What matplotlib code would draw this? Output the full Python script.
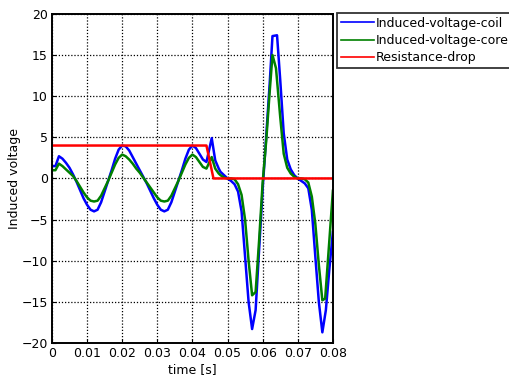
import matplotlib

matplotlib.use("Agg")
import matplotlib.pyplot as plt

# Induced voltage in the coil
t_coil = [0.000, 0.001, 0.002, 0.003, 0.004, 0.005, 0.006, 0.007, 0.008, 0.009,
          0.010, 0.011, 0.012, 0.013, 0.014, 0.015, 0.016, 0.017, 0.018, 0.019,
          0.020, 0.021, 0.022, 0.023, 0.024, 0.025, 0.026, 0.027, 0.028, 0.029,
          0.030, 0.031, 0.032, 0.033, 0.034, 0.035, 0.036, 0.037, 0.038, 0.039,
          0.040, 0.041, 0.042, 0.043, 0.044, 0.0455, 0.0465, 0.0475, 0.048, 0.049,
          0.050, 0.051, 0.052, 0.053, 0.054, 0.055, 0.056, 0.057, 0.058, 0.059,
          0.060, 0.061, 0.062, 0.0628, 0.0641, 0.065, 0.066, 0.067, 0.068, 0.069,
          0.070, 0.071, 0.072, 0.073, 0.074, 0.075, 0.076, 0.077, 0.078, 0.079,
          0.080]
v_coil = [1.5, 1.5, 2.7, 2.4, 1.9, 1.3, 0.5, -0.4, -1.4, -2.4,
          -3.2, -3.8, -4.0, -3.8, -2.9, -1.6, -0.3, 1.0, 2.4, 3.5,
          4.0, 3.9, 3.4, 2.6, 1.8, 1.0, 0.2, -0.6, -1.5, -2.4,
          -3.2, -3.8, -4.0, -3.8, -2.9, -1.6, -0.3, 1.0, 2.4, 3.5,
          4.0, 3.7, 3.0, 2.3, 2.0, 4.9, 2.2, 1.2, 0.8, 0.4,
          0.0, -0.3, -0.7, -1.6, -4.0, -9.5, -15.0, -18.3, -16.0, -8.6,
          -1.3, 5.0, 11.5, 17.3, 17.4, 12.0, 5.5, 2.3, 1.1, 0.4,
          0.0, -0.3, -0.6, -1.2, -3.8, -9.5, -15.0, -18.7, -16.0, -11.0,
          -6.5]

# Induced voltage in the core
t_core = [0.000, 0.001, 0.002, 0.003, 0.004, 0.005, 0.006, 0.007, 0.008, 0.009,
          0.010, 0.011, 0.012, 0.013, 0.014, 0.015, 0.016, 0.017, 0.018, 0.019,
          0.020, 0.021, 0.022, 0.023, 0.024, 0.025, 0.026, 0.027, 0.028, 0.029,
          0.030, 0.031, 0.032, 0.033, 0.034, 0.035, 0.036, 0.037, 0.038, 0.039,
          0.040, 0.041, 0.042, 0.043, 0.044, 0.0455, 0.0465, 0.0475, 0.048, 0.049,
          0.050, 0.051, 0.052, 0.053, 0.054, 0.055, 0.056, 0.057, 0.058, 0.059,
          0.060, 0.061, 0.062, 0.0628, 0.0638, 0.065, 0.066, 0.067, 0.068, 0.069,
          0.070, 0.071, 0.072, 0.073, 0.074, 0.075, 0.076, 0.077, 0.0778, 0.079,
          0.080]
v_core = [1.0, 1.0, 1.8, 1.5, 1.1, 0.7, 0.3, -0.3, -1.0, -1.7,
          -2.3, -2.7, -2.8, -2.7, -2.1, -1.2, -0.3, 0.7, 1.7, 2.5,
          2.9, 2.7, 2.3, 1.8, 1.2, 0.7, 0.1, -0.5, -1.1, -1.7,
          -2.3, -2.7, -2.8, -2.7, -2.1, -1.2, -0.3, 0.7, 1.7, 2.5,
          2.9, 2.6, 2.0, 1.4, 1.2, 2.6, 1.2, 0.6, 0.4, 0.1,
          0.0, 0.0, -0.1, -0.7, -2.0, -5.0, -10.0, -14.2, -13.8, -7.5,
          -0.5, 4.5, 10.5, 15.0, 13.4, 7.5, 3.0, 1.3, 0.6, 0.2,
          0.0, 0.0, -0.1, -0.5, -2.2, -5.5, -10.5, -14.8, -14.6, -7.5,
          -1.5]

# Resistance drop
t_res = [0.000, 0.044, 0.046, 0.080]
v_res = [4.0, 4.0, 0.0, 0.0]

labels = ["Induced-voltage-coil", "Induced-voltage-core", "Resistance-drop"]
colors = ["#0000ff", "#008000", "#ff0000"]

fig = plt.figure(figsize=(5.09, 3.85), dpi=100)
ax = fig.add_axes([0.102, 0.109, 0.552, 0.855])

ax.plot(t_coil, v_coil, color=colors[0], lw=1.8, label=labels[0])
ax.plot(t_core, v_core, color=colors[1], lw=1.8, label=labels[1])
ax.plot(t_res, v_res, color=colors[2], lw=1.8, label=labels[2])

ax.set_xlim(0, 0.08)
ax.set_ylim(-20, 20)
ax.set_xticks([0, 0.01, 0.02, 0.03, 0.04, 0.05, 0.06, 0.07, 0.08])
ax.set_xticklabels(["0", "0.01", "0.02", "0.03", "0.04", "0.05", "0.06", "0.07", "0.08"])
ax.set_yticks(range(-20, 21, 5))
ax.grid(True, color="black", linestyle=(0, (1, 1.5)), linewidth=0.9)
ax.tick_params(direction="in", length=3, labelsize=9, pad=3)
for sp in ax.spines.values():
    sp.set_linewidth(1.4)

ax.set_xlabel("time [s]", fontsize=9, labelpad=2)
ax.set_ylabel("Induced voltage", fontsize=9, labelpad=0)

leg = ax.legend(loc="upper left", bbox_to_anchor=(1.016, 1.003), fontsize=9,
                frameon=True, fancybox=False, edgecolor="black",
                handlelength=2.6, handletextpad=0.15, labelspacing=0.35,
                borderpad=0.3, borderaxespad=0)
leg.get_frame().set_linewidth(1.3)
for line in leg.get_lines():
    line.set_linewidth(1.2)

fig.savefig("out.png", dpi=100)
